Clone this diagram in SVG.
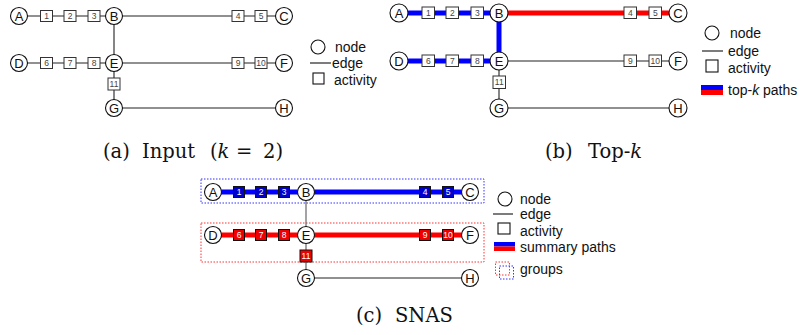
<svg xmlns="http://www.w3.org/2000/svg" width="805" height="335" viewBox="0 0 805 335">
<style>
.bg{fill:#fff}
.e{stroke:#222;stroke-width:1.1;fill:none}
.eg{stroke:#666;stroke-width:1.2;fill:none}
.tb{stroke:#0000ff;stroke-width:5;fill:none}
.tr{stroke:#ff0000;stroke-width:5;fill:none}
.n circle{fill:#fff;stroke:#111;stroke-width:1.1}
.n text{font-family:"Liberation Sans",Arial,sans-serif;font-size:13px;fill:#111;text-anchor:middle;dominant-baseline:central}
.act rect{fill:#fff;stroke:#333;stroke-width:1}
.act text{font-family:"Liberation Sans",Arial,sans-serif;font-size:8.5px;fill:#444;text-anchor:middle;dominant-baseline:central}
.actb rect{fill:#0000cc;stroke:#111;stroke-width:1}
.actr rect{fill:#ee0000;stroke:#111;stroke-width:1}
.actb text,.actr text{font-family:"Liberation Sans",Arial,sans-serif;font-size:8.5px;fill:#fff;text-anchor:middle;dominant-baseline:central}
.lg{font-family:"Liberation Sans",Arial,sans-serif;font-size:14px;fill:#111}
.cap{font-family:"DejaVu Serif","Liberation Serif",serif;font-size:19.5px;fill:#111}
.dotb{fill:none;stroke:#3333ff;stroke-width:1;stroke-dasharray:1.5,1.5}
.dotr{fill:none;stroke:#ff3333;stroke-width:1;stroke-dasharray:1.5,1.5}
</style>
<rect class="bg" x="0" y="0" width="805" height="335"/>

<!-- ================= Panel (a) ================= -->
<g id="a-edges">
  <line class="e" x1="19" y1="16" x2="284" y2="16"/>
  <line class="e" x1="19" y1="63" x2="284" y2="63"/>
  <line class="e" x1="114" y1="16" x2="114" y2="108"/>
  <line class="e" x1="114" y1="108" x2="284" y2="108"/>
</g>
<g id="a-act1" class="act"><rect x="40.5" y="10.5" width="12" height="11"/><text x="46.5" y="16">1</text></g>
<g id="a-act2" class="act"><rect x="64" y="10.5" width="12" height="11"/><text x="70" y="16">2</text></g>
<g id="a-act3" class="act"><rect x="88" y="10.5" width="12" height="11"/><text x="94" y="16">3</text></g>
<g id="a-act4" class="act"><rect x="232" y="10.5" width="12" height="11"/><text x="238" y="16">4</text></g>
<g id="a-act5" class="act"><rect x="255" y="10.5" width="12" height="11"/><text x="261" y="16">5</text></g>
<g id="a-act6" class="act"><rect x="40.5" y="57.5" width="12" height="11"/><text x="46.5" y="63">6</text></g>
<g id="a-act7" class="act"><rect x="64" y="57.5" width="12" height="11"/><text x="70" y="63">7</text></g>
<g id="a-act8" class="act"><rect x="88" y="57.5" width="12" height="11"/><text x="94" y="63">8</text></g>
<g id="a-act9" class="act"><rect x="232" y="57.5" width="12" height="11"/><text x="238" y="63">9</text></g>
<g id="a-act10" class="act"><rect x="255" y="57.5" width="12" height="11"/><text x="261" y="63">10</text></g>
<g id="a-act11" class="act"><rect x="108" y="78" width="12" height="12"/><text x="114" y="84">11</text></g>
<g id="a-A" class="n"><circle cx="19" cy="16" r="8.5"/><text x="19" y="16">A</text></g>
<g id="a-B" class="n"><circle cx="114" cy="16" r="8.5"/><text x="114" y="16">B</text></g>
<g id="a-C" class="n"><circle cx="284" cy="16" r="8.5"/><text x="284" y="16">C</text></g>
<g id="a-D" class="n"><circle cx="19" cy="63" r="8.5"/><text x="19" y="63">D</text></g>
<g id="a-E" class="n"><circle cx="114" cy="63" r="8.5"/><text x="114" y="63">E</text></g>
<g id="a-F" class="n"><circle cx="284" cy="63" r="8.5"/><text x="284" y="63">F</text></g>
<g id="a-G" class="n"><circle cx="114" cy="108" r="8.5"/><text x="114" y="108">G</text></g>
<g id="a-H" class="n"><circle cx="284" cy="108" r="8.5"/><text x="284" y="108">H</text></g>
<g id="a-legend">
  <circle cx="318" cy="47" r="7" fill="#fff" stroke="#111" stroke-width="1.1"/>
  <text class="lg" x="335" y="52">node</text>
  <line x1="310" y1="63" x2="331" y2="63" stroke="#111" stroke-width="1.1"/>
  <text class="lg" x="332" y="68">edge</text>
  <rect x="313" y="73" width="11" height="11" fill="#fff" stroke="#111" stroke-width="1.1"/>
  <text class="lg" x="334" y="85">activity</text>
</g>
<text class="cap" y="158"><tspan x="103">(a)</tspan><tspan x="142">Input</tspan><tspan x="210">(<tspan font-style="italic">k</tspan></tspan><tspan x="236">=</tspan><tspan x="263">2)</tspan></text>

<!-- ================= Panel (b) ================= -->
<g id="b-edges">
  <line class="e" x1="499" y1="61" x2="678" y2="61"/>
  <line class="e" x1="499" y1="61" x2="499" y2="108"/>
  <line class="e" x1="499" y1="108" x2="678" y2="108"/>
  <line class="tb" x1="399" y1="13" x2="499" y2="13"/>
  <line class="tb" x1="399" y1="61" x2="499" y2="61"/>
  <line class="tb" x1="499" y1="13" x2="499" y2="61"/>
  <line class="tr" x1="499" y1="13" x2="678" y2="13"/>
</g>
<g id="b-act1" class="act"><rect x="422" y="7" width="12.5" height="11.5"/><text x="428.25" y="13">1</text></g>
<g id="b-act2" class="act"><rect x="446" y="7" width="12.5" height="11.5"/><text x="452.25" y="13">2</text></g>
<g id="b-act3" class="act"><rect x="471" y="7" width="12.5" height="11.5"/><text x="477.25" y="13">3</text></g>
<g id="b-act4" class="act"><rect x="624" y="7" width="12.5" height="11.5"/><text x="630.25" y="13">4</text></g>
<g id="b-act5" class="act"><rect x="649" y="7" width="12.5" height="11.5"/><text x="655.25" y="13">5</text></g>
<g id="b-act6" class="act"><rect x="422" y="55" width="12.5" height="11.5"/><text x="428.25" y="61">6</text></g>
<g id="b-act7" class="act"><rect x="446" y="55" width="12.5" height="11.5"/><text x="452.25" y="61">7</text></g>
<g id="b-act8" class="act"><rect x="471" y="55" width="12.5" height="11.5"/><text x="477.25" y="61">8</text></g>
<g id="b-act9" class="act"><rect x="624" y="55" width="12.5" height="11.5"/><text x="630.25" y="61">9</text></g>
<g id="b-act10" class="act"><rect x="649" y="55" width="12.5" height="11.5"/><text x="655.25" y="61">10</text></g>
<g id="b-act11" class="act"><rect x="493" y="76" width="12.5" height="12.5"/><text x="499.25" y="82">11</text></g>
<g id="b-A" class="n"><circle cx="399" cy="13" r="9"/><text x="399" y="13">A</text></g>
<g id="b-B" class="n"><circle cx="499" cy="13" r="9"/><text x="499" y="13">B</text></g>
<g id="b-C" class="n"><circle cx="678" cy="13" r="9"/><text x="678" y="13">C</text></g>
<g id="b-D" class="n"><circle cx="399" cy="61" r="9"/><text x="399" y="61">D</text></g>
<g id="b-E" class="n"><circle cx="499" cy="61" r="9"/><text x="499" y="61">E</text></g>
<g id="b-F" class="n"><circle cx="678" cy="61" r="9"/><text x="678" y="61">F</text></g>
<g id="b-G" class="n"><circle cx="499" cy="108" r="9"/><text x="499" y="108">G</text></g>
<g id="b-H" class="n"><circle cx="678" cy="108" r="9"/><text x="678" y="108">H</text></g>
<g id="b-legend">
  <circle cx="712" cy="33" r="7" fill="#fff" stroke="#111" stroke-width="1.1"/>
  <text class="lg" x="730" y="38">node</text>
  <line x1="702" y1="51" x2="723" y2="51" stroke="#111" stroke-width="1.1"/>
  <text class="lg" x="728" y="56">edge</text>
  <rect x="706" y="60" width="12" height="12" fill="#fff" stroke="#111" stroke-width="1.1"/>
  <text class="lg" x="728" y="73">activity</text>
  <rect x="701" y="85" width="22" height="5" fill="#0000ff"/>
  <rect x="701" y="90" width="22" height="5" fill="#ff0000"/>
  <text class="lg" x="728" y="95">top-<tspan font-style="italic">k</tspan> paths</text>
</g>
<text class="cap" y="158"><tspan x="545">(b)</tspan><tspan x="588">Top-<tspan font-style="italic">k</tspan></tspan></text>

<!-- ================= Panel (c) ================= -->
<g id="c-groups">
  <rect class="dotb" x="201" y="179" width="283" height="24"/>
  <rect class="dotr" x="201" y="223" width="283" height="39"/>
</g>
<g id="c-edges">
  <line class="eg" x1="306" y1="192" x2="306" y2="235"/>
  <line class="eg" x1="306" y1="235" x2="306" y2="278"/>
  <line class="e" x1="306" y1="278" x2="470" y2="278"/>
  <line class="tb" x1="213" y1="192" x2="470" y2="192"/>
  <line class="tr" x1="213" y1="235" x2="470" y2="235"/>
</g>
<g id="c-act1" class="actb"><rect x="233.5" y="186.5" width="11" height="11"/><text x="239" y="192">1</text></g>
<g id="c-act2" class="actb"><rect x="255.5" y="186.5" width="11" height="11"/><text x="261" y="192">2</text></g>
<g id="c-act3" class="actb"><rect x="278.5" y="186.5" width="11" height="11"/><text x="284" y="192">3</text></g>
<g id="c-act4" class="actb"><rect x="419.5" y="186.5" width="11" height="11"/><text x="425" y="192">4</text></g>
<g id="c-act5" class="actb"><rect x="442.5" y="186.5" width="11" height="11"/><text x="448" y="192">5</text></g>
<g id="c-act6" class="actr"><rect x="233.5" y="229.5" width="11" height="11"/><text x="239" y="235">6</text></g>
<g id="c-act7" class="actr"><rect x="255.5" y="229.5" width="11" height="11"/><text x="261" y="235">7</text></g>
<g id="c-act8" class="actr"><rect x="278.5" y="229.5" width="11" height="11"/><text x="284" y="235">8</text></g>
<g id="c-act9" class="actr"><rect x="419.5" y="229.5" width="11" height="11"/><text x="425" y="235">9</text></g>
<g id="c-act10" class="actr"><rect x="442.5" y="229.5" width="11" height="11"/><text x="448" y="235">10</text></g>
<g id="c-act11" class="actr"><rect x="300" y="250" width="12" height="12"/><text x="306" y="256">11</text></g>
<g id="c-A" class="n"><circle cx="213" cy="192" r="8.5"/><text x="213" y="192">A</text></g>
<g id="c-B" class="n"><circle cx="306" cy="192" r="8.5"/><text x="306" y="192">B</text></g>
<g id="c-C" class="n"><circle cx="470" cy="192" r="8.5"/><text x="470" y="192">C</text></g>
<g id="c-D" class="n"><circle cx="213" cy="235" r="8.5"/><text x="213" y="235">D</text></g>
<g id="c-E" class="n"><circle cx="306" cy="235" r="8.5"/><text x="306" y="235">E</text></g>
<g id="c-F" class="n"><circle cx="470" cy="235" r="8.5"/><text x="470" y="235">F</text></g>
<g id="c-G" class="n"><circle cx="306" cy="278" r="8.5"/><text x="306" y="278">G</text></g>
<g id="c-H" class="n"><circle cx="470" cy="278" r="8.5"/><text x="470" y="278">H</text></g>
<g id="c-legend">
  <circle cx="505" cy="199" r="7" fill="#fff" stroke="#111" stroke-width="1.1"/>
  <text class="lg" x="520" y="204">node</text>
  <line x1="493" y1="214" x2="513" y2="214" stroke="#111" stroke-width="1.1"/>
  <text class="lg" x="520" y="219">edge</text>
  <rect x="498" y="223" width="12" height="11" fill="#fff" stroke="#111" stroke-width="1.1"/>
  <text class="lg" x="520" y="236">activity</text>
  <rect x="494" y="242" width="21" height="4.5" fill="#0000ff"/>
  <rect x="494" y="246.5" width="21" height="4.5" fill="#ff0000"/>
  <text class="lg" x="520" y="252">summary paths</text>
  <rect class="dotr" x="495.5" y="262" width="14" height="13"/>
  <rect class="dotb" x="499.5" y="266" width="14" height="13"/>
  <text class="lg" x="520" y="274">groups</text>
</g>
<text class="cap" y="322"><tspan x="356">(c)</tspan><tspan x="395">SNAS</tspan></text>
</svg>
